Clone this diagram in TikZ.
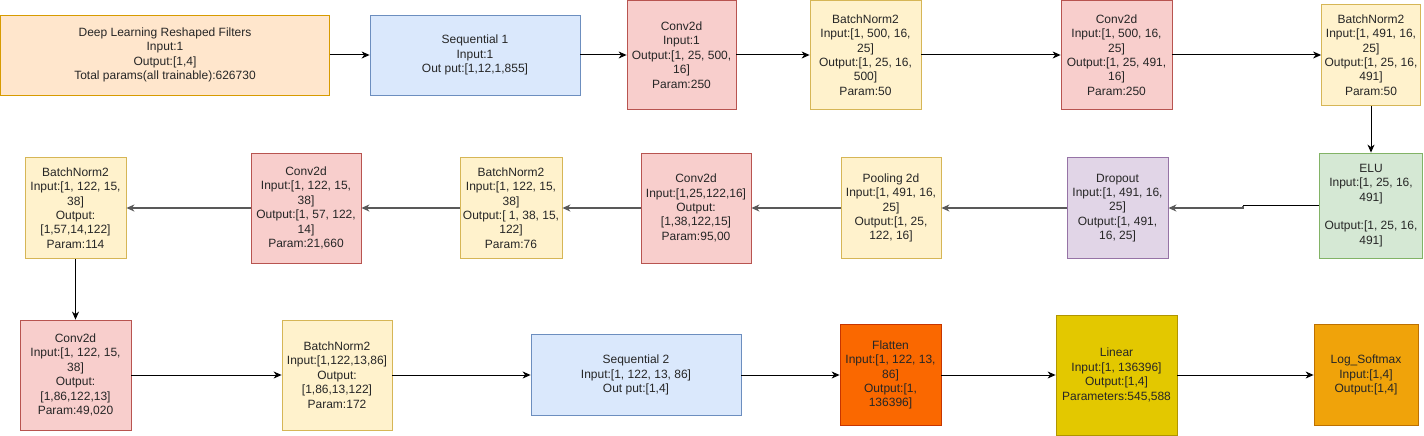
\documentclass[tikz,border=0pt]{standalone}
\usepackage{fontspec}
\setmainfont{Liberation Sans}
\usetikzlibrary{arrows.meta}
\definecolor{redF}{HTML}{F8CECC}\definecolor{redS}{HTML}{B85450}
\definecolor{yelF}{HTML}{FFF2CC}\definecolor{yelS}{HTML}{D6B656}
\definecolor{bluF}{HTML}{DAE8FC}\definecolor{bluS}{HTML}{6C8EBF}
\definecolor{oraF}{HTML}{FFE6CC}\definecolor{oraS}{HTML}{D79B00}
\definecolor{purF}{HTML}{E1D5E7}\definecolor{purS}{HTML}{9673A6}
\definecolor{grnF}{HTML}{D5E8D4}\definecolor{grnS}{HTML}{82B366}
\definecolor{flaF}{HTML}{FA6800}\definecolor{flaS}{HTML}{C73500}
\definecolor{linF}{HTML}{E3C800}\definecolor{linS}{HTML}{B09500}
\definecolor{logF}{HTML}{F0A30A}\definecolor{logS}{HTML}{BD7000}
\tikzset{
  box/.style={draw, line width=0.8pt, inner sep=0pt, align=center,
    font=\fontsize{12}{14.4}\selectfont, text=black!85},
  conv/.style={box, fill=redF, draw=redS},
  bnorm/.style={box, fill=yelF, draw=yelS},
  seqbox/.style={box, fill=bluF, draw=bluS},
  dlbox/.style={box, fill=oraF, draw=oraS},
  dropbox/.style={box, fill=purF, draw=purS},
  elubox/.style={box, fill=grnF, draw=grnS},
  flatbox/.style={box, fill=flaF, draw=flaS},
  linbox/.style={box, fill=linF, draw=linS},
  logbox/.style={box, fill=logF, draw=logS},
  conn/.style={draw=black, line width=1pt, -{Stealth[length=8pt,width=7pt,inset=2.5pt]}},
  connB/.style={draw=black!65, line width=1.6pt, -{Stealth[length=8pt,width=7pt,inset=2.5pt]}},
}
\begin{document}
\begin{tikzpicture}[x=1pt,y=-1pt]
\useasboundingbox (0,0) rectangle (1424,436);
% Row 1
\node[dlbox, minimum width=329pt, minimum height=80pt] (dl) at (165,55)
  {Deep Learning Reshaped Filters\\Input:1\\Output:[1,4]\\Total params(all trainable):626730};
\node[seqbox, minimum width=210pt, minimum height=80pt] (seq1) at (475,55)
  {Sequential 1\\Input:1\\Out put:[1,12,1,855]};
\node[conv, minimum width=109pt, minimum height=109pt] (c1) at (681.5,55)
  {Conv2d\\Input:1\\Output:[1, 25, 500,\\16]\\Param:250};
\node[bnorm, minimum width=111pt, minimum height=109pt] (b1) at (865.5,55)
  {BatchNorm2\\Input:[1, 500, 16,\\25]\\Output:[1, 25, 16,\\500]\\Param:50};
\node[conv, minimum width=111pt, minimum height=109pt] (c2) at (1116.5,55)
  {Conv2d\\Input:[1, 500, 16,\\25]\\Output:[1, 25, 491,\\16]\\Param:250};
\node[bnorm, minimum width=99pt, minimum height=101pt] (b2) at (1371,55)
  {BatchNorm2\\Input:[1, 491, 16,\\25]\\Output:[1, 25, 16,\\491]\\Param:50};
% Row 2
\node[elubox, minimum width=103pt, minimum height=105pt] (elu) at (1371,205.5)
  {ELU\\Input:[1, 25, 16,\\491]\\\mbox{}\\Output:[1, 25, 16,\\491]};
\node[dropbox, minimum width=101pt, minimum height=101pt] (drop) at (1117.5,208)
  {Dropout\\Input:[1, 491, 16,\\25]\\Output:[1, 491,\\16, 25]};
\node[bnorm, minimum width=100pt, minimum height=101pt] (pool) at (891,208)
  {Pooling 2d\\Input:[1, 491, 16,\\25]\\Output:[1, 25,\\122, 16]};
\node[conv, minimum width=110pt, minimum height=110pt] (c3) at (696,208)
  {Conv2d\\Input:[1,25,122,16]\\Output:\\{}[1,38,122,15]\\Param:95,00};
\node[bnorm, minimum width=102pt, minimum height=101pt] (b3) at (511,208)
  {BatchNorm2\\Input:[1, 122, 15,\\38]\\Output:[ 1, 38, 15,\\122]\\Param:76};
\node[conv, minimum width=110pt, minimum height=110pt] (c4) at (306,208)
  {Conv2d\\Input:[1, 122, 15,\\38]\\Output:[1, 57, 122,\\14]\\Param:21,660};
\node[bnorm, minimum width=101pt, minimum height=101pt] (b4) at (75.5,208)
  {BatchNorm2\\Input:[1, 122, 15,\\38]\\Output:\\{}[1,57,14,122]\\Param:114};
% Row 3
\node[conv, minimum width=111pt, minimum height=110pt] (c5) at (75.5,375)
  {Conv2d\\Input:[1, 122, 15,\\38]\\Output:\\{}[1,86,122,13]\\Param:49,020};
\node[bnorm, minimum width=110pt, minimum height=110pt] (b5) at (337,375)
  {BatchNorm2\\Input:[1,122,13,86]\\Output:\\{}[1,86,13,122]\\Param:172};
\node[seqbox, minimum width=210pt, minimum height=81pt] (seq2) at (636,375)
  {Sequential 2\\Input:[1, 122, 13, 86]\\Out put:[1,4]};
\node[flatbox, minimum width=101pt, minimum height=101pt] (flat) at (890.5,375)
  {Flatten\\Input:[1, 122, 13,\\86]\\Output:[1,\\136396]};
\node[linbox, minimum width=121pt, minimum height=120pt] (lin) at (1116.5,375)
  {Linear\\Input:[1, 136396]\\Output:[1,4]\\Parameters:545,588};
\node[logbox, minimum width=104pt, minimum height=101pt] (logs) at (1366,375)
  {Log\_Softmax\\Input:[1,4]\\Output:[1,4]};
% Connectors
\draw[conn] (dl) -- (seq1);
\draw[conn] (seq1) -- (c1);
\draw[conn] (c1) -- (b1);
\draw[conn] (b1) -- (c2);
\draw[conn] (c2) -- (b2);
\draw[conn] (b2) -- (elu);
\coordinate (jog) at (1243,205.5);
\draw[conn, -] (elu.west) -- (jog);
\draw[connB] (jog) -- (1243,208) -- (drop.east);
\draw[connB] (drop) -- (pool);
\draw[connB] (pool) -- (c3);
\draw[connB] (c3) -- (b3);
\draw[connB] (b3) -- (c4);
\draw[connB] (c4) -- (b4);
\draw[conn] (b4) -- (c5);
\draw[conn] (c5) -- (b5);
\draw[conn] (b5) -- (seq2);
\draw[conn] (seq2) -- (flat);
\draw[conn] (flat) -- (lin);
\draw[conn] (lin) -- (logs);
\end{tikzpicture}
\end{document}
